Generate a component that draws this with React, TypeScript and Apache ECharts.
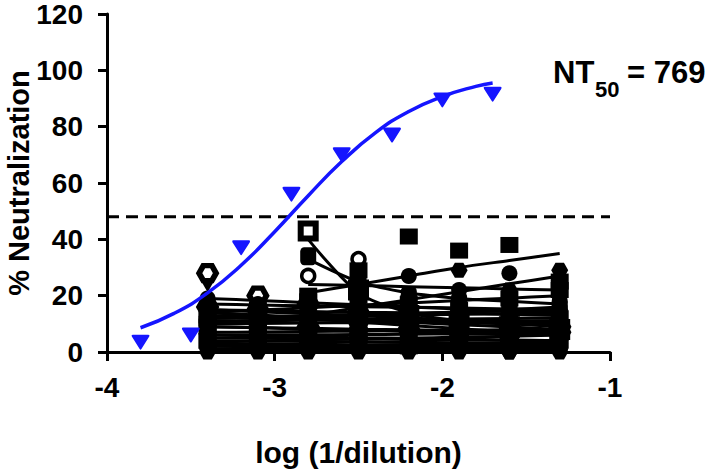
import React, { useEffect, useRef } from "react";
import * as echarts from "echarts";

// Dilution positions (log 1/dilution)
const sampleX = [-3.4, -3.1, -2.8, -2.5, -2.2, -1.9, -1.6, -1.3];

// Black samples: neutralization values at each dilution
const sampleValues: (number | null)[][] = [
  [28, 20, 17, 14, 12, 11, 10, 9],
  [23.5, 13, 11, 10, 12, 9, 10, 8],
  [16, 15, 9, 11, 8, 7, 6, 7],
  [null, null, 43, 22, 13, 10, 9, 8],
  [null, null, 34, 25, 20, 18, 17, 16],
  [null, null, 27, 33, 19, 18.5, 14, 12],
  [12, 10, 20, 29, 41, 36, 38, 25],
  [10, 8, 14, 18, 27, 22, 28, 20],
  [8, 12, 15, 16, 20, 29, 22, 29],
  [18, 16, 13, 12, 15, 14, 12, 13],
  [14, 12, 10, 14, 11, 18.5, 14, 16],
  [11, 9, 8, 9, 7, 10, 9, 11],
  [9, 11, 7, 6, 9, 8, 5, 7],
  [7, 6, 5, 8, 6, 5, 7, 9],
  [6, 7, 4, 5, 3, 6, 4, 5],
  [5, 4, 6, 3, 5, 4, 3, 3],
  [4, 5, 3, 4, 2, 3, 5, 4],
  [3, 2, 2, 1, 4, 2, 1, 2],
  [2, 3, 1, 2, 1, 1, 2, 1],
  [0, 1, 0, 0, 0, 0, 0, 0],
  [17, 14, 16, 7, 10, 12, 11, 10],
  [13, 15, 18, 20, 17, 15, 19, 22],
  [19, 17, 12, 13, 14, 13, 16, 18],
  [1, 0, 2, 3, 1, 2, 0, 1],
  [12, 13, 11, 10, 9, 11, 12, 10],
  [10, 10, 12, 11, 13, 12, 11, 12],
  [8, 9, 10, 12, 11, 9, 8, 6],
  [6, 5, 7, 6, 8, 7, 6, 5],
  [15, 13, 12, 9, 8, 7, 8, 6],
  [4, 3, 5, 6, 4, 5, 6, 7],
  [11, 12, 14, 15, 16, 14, 13, 15],
  [2, 1, 3, 2, 3, 3, 4, 3],
];

// Fitted curves of the black samples at the same dilutions
const sampleFits: (number | null)[][] = [
  [19, 18.3, 17.5, 16.8, 16, 15.3, 14.6, 14],
  [13, 12.5, 12, 11.5, 11, 10.5, 10, 9.5],
  [14, 13.1, 12.3, 11.4, 10.6, 9.7, 8.9, 8],
  [null, null, 40, 21, 14, 11, 10, 9],
  [null, null, 33, 25, 21, 19, 18, 17],
  [null, null, 24, 23.6, 23.2, 22.8, 22.4, 22],
  [null, null, 21, 24, 27, 30, 32.5, 35],
  [null, null, 13, 15.8, 18.6, 21.4, 24.2, 27],
  [10, 10.9, 11.7, 12.6, 13.4, 14.3, 15.1, 16],
  [15, 14.7, 14.4, 14.1, 13.9, 13.6, 13.3, 13],
  [12, 12.3, 12.6, 12.9, 13.1, 13.4, 13.7, 14],
  [10, 10.1, 10.3, 10.4, 10.6, 10.7, 10.9, 11],
  [9, 8.6, 8.1, 7.7, 7.3, 6.9, 6.4, 6],
  [7, 7.1, 7.3, 7.4, 7.6, 7.7, 7.9, 8],
  [6, 5.7, 5.4, 5.1, 4.9, 4.6, 4.3, 4],
  [5, 4.9, 4.7, 4.6, 4.4, 4.3, 4.1, 4],
  [4, 3.9, 3.7, 3.6, 3.4, 3.3, 3.1, 3],
  [3, 2.9, 2.7, 2.6, 2.4, 2.3, 2.1, 2],
  [2, 1.9, 1.9, 1.8, 1.7, 1.6, 1.6, 1.5],
  [0.8, 0.7, 0.7, 0.6, 0.5, 0.4, 0.4, 0.3],
  [15, 14.3, 13.6, 12.9, 12.1, 11.4, 10.7, 10],
  [14, 14.9, 15.7, 16.6, 17.4, 18.3, 19.1, 20],
  [17, 16.7, 16.4, 16.1, 15.9, 15.6, 15.3, 15],
  [1, 1, 1, 1, 1, 1, 1, 1],
  [12, 11.9, 11.7, 11.6, 11.4, 11.3, 11.1, 11],
  [11, 11.1, 11.3, 11.4, 11.6, 11.7, 11.9, 12],
  [9, 8.7, 8.4, 8.1, 7.9, 7.6, 7.3, 7],
  [6, 6.1, 6.1, 6.2, 6.3, 6.4, 6.4, 6.5],
  [14, 12.9, 11.7, 10.6, 9.4, 8.3, 7.1, 6],
  [3.5, 3.9, 4.2, 4.6, 4.9, 5.3, 5.6, 6],
  [12, 12.4, 12.9, 13.3, 13.7, 14.1, 14.6, 15],
  [2, 2.1, 2.3, 2.4, 2.6, 2.7, 2.9, 3],
];

const sampleShapes = [
  "hex", "tri", "hex", "rectHollow", "round", "ring", "rect", "circle",
  "hex", "diamond", "circle", "hex", "rect", "diamond", "circle", "hex",
  "rect", "tri", "circle", "hex", "diamond", "rect", "circle", "hex",
  "circle", "rect", "hex", "diamond", "circle", "rect", "hex", "tri",
];

// Blue reference sample
const refX = [-3.8, -3.5, -3.2, -2.9, -2.6, -2.3, -2.0, -1.7];
const refY = [3.5, 6, 37, 56, 70, 77, 89.5, 91.5];
const refCurveX = [-3.8, -3.6, -3.4, -3.2, -3.0, -2.8, -2.6, -2.4, -2.2, -2.0, -1.8, -1.7];
const refCurveY = [8.6, 13.7, 21, 30.8, 42.7, 55.5, 67.6, 77.8, 85.4, 90.7, 94.3, 95.5];

const cutoff = 48;
const xTicks = [-4, -1];
const yTicks = [0, 120];

const FONT = "Liberation Sans, Arial, sans-serif";
const HEX = "path://M5,0 L15,0 L20,8.66 L15,17.32 L5,17.32 L0,8.66 Z";
const TRI = "path://M0,0 L20,0 L10,17 Z";
const BLUE_TRI = "path://M1,0 L19,0 Q21,0 20,2 L11,15 Q10,16.5 9,15 L0,2 Q-1,0 1,0 Z";

function markerFor(shape: string): any {
  switch (shape) {
    case "hex":
      return { symbol: HEX, size: [17, 15], hollow: true, bw: 5.5 };
    case "tri":
      return { symbol: TRI, size: [15, 13] };
    case "rect":
      return { symbol: "rect", size: [18, 16] };
    case "rectHollow":
      return { symbol: "rect", size: [15, 15], hollow: true, bw: 6 };
    case "round":
      return { symbol: "roundRect", size: [16, 18] };
    case "diamond":
      return { symbol: "diamond", size: [17, 18] };
    case "ring":
      return { symbol: "circle", size: 13, hollow: true, bw: 3.5 };
    default:
      return { symbol: "circle", size: 16 };
  }
}

export default function App() {
  const ref = useRef<HTMLDivElement>(null);
  useEffect(() => {
    if (!ref.current) return;
    const chart = echarts.init(ref.current, null, { renderer: "svg" });
    const series: any[] = [];

    sampleFits.forEach((fit) => {
      series.push({
        type: "line",
        data: sampleX.map((x, j) => [x, fit[j]]).filter((d) => d[1] !== null),
        showSymbol: false,
        smooth: 0.3,
        lineStyle: { color: "#000", width: 3 },
        z: 2,
        silent: true,
      });
    });

    sampleValues.forEach((vals, i) => {
      const m = markerFor(sampleShapes[i]);
      const hollowTop = i < 6 && m.hollow;
      series.push({
        type: "scatter",
        data: sampleX.map((x, j) => [x, vals[j]]).filter((d) => d[1] !== null),
        symbol: m.symbol,
        symbolSize: m.size,
        itemStyle: hollowTop
          ? { color: "#fff", borderColor: "#000", borderWidth: m.bw, opacity: 1 }
          : { color: "#000", opacity: 1 },
        z: hollowTop ? 3 : 4,
      });
    });

    series.push({
      type: "line",
      data: [
        [xTicks[0], cutoff],
        [xTicks[1], cutoff],
      ],
      showSymbol: false,
      lineStyle: { color: "#000", width: 3, type: [12, 7] },
      z: 2,
    });

    series.push({
      type: "line",
      data: refCurveX.map((x, i) => [x, refCurveY[i]]),
      showSymbol: false,
      smooth: true,
      lineStyle: { color: "#1515ff", width: 3.5 },
      z: 6,
    });
    series.push({
      type: "scatter",
      data: refX.map((x, i) => [x, refY[i]]),
      symbol: BLUE_TRI,
      symbolSize: [18, 15],
      itemStyle: { color: "#1515ff", opacity: 1 },
      z: 7,
    });

    const axisLabel = {
      color: "#000",
      fontSize: 28,
      fontWeight: "bold",
      fontFamily: FONT,
    };

    chart.setOption({
      animation: false,
      grid: {
        left: 107,
        right: 98,
        top: 14,
        bottom: 117,
        containLabel: false,
        outerBoundsMode: "none",
      },
      xAxis: {
        type: "value",
        min: xTicks[0],
        max: xTicks[1],
        interval: 1,
        splitLine: { show: false },
        axisLine: { lineStyle: { color: "#000", width: 3 }, onZero: false },
        axisTick: { show: true, length: 9, lineStyle: { color: "#000", width: 3 } },
        axisLabel: { ...axisLabel, margin: 21 },
        name: "log (1/dilution)",
        nameLocation: "middle",
        nameGap: 85,
        nameMoveOverlap: false,
        nameTextStyle: { color: "#000", fontSize: 30, fontWeight: "bold", fontFamily: FONT },
      },
      yAxis: {
        type: "value",
        min: yTicks[0],
        max: yTicks[1],
        interval: 20,
        splitLine: { show: false },
        axisLine: { show: true, lineStyle: { color: "#000", width: 3 } },
        axisTick: { show: true, length: 9, lineStyle: { color: "#000", width: 3 } },
        axisLabel: { ...axisLabel, margin: 24 },
        name: "% Neutralization",
        nameLocation: "middle",
        nameGap: 74,
        nameMoveOverlap: false,
        nameTextStyle: { color: "#000", fontSize: 29, fontWeight: "bold", fontFamily: FONT },
      },
      graphic: [
        {
          type: "text",
          left: 553,
          top: 57,
          style: { text: "NT", fontSize: 31, fontWeight: "bold", fontFamily: FONT, fill: "#000" },
        },
        {
          type: "text",
          left: 595,
          top: 78,
          style: { text: "50", fontSize: 22, fontWeight: "bold", fontFamily: FONT, fill: "#000" },
        },
        {
          type: "text",
          left: 627,
          top: 57,
          style: { text: "= 769", fontSize: 31, fontWeight: "bold", fontFamily: FONT, fill: "#000" },
        },
      ],
      series,
    });
    return () => chart.dispose();
  }, []);
  return <div ref={ref} style={{ width: 708, height: 469, position: "absolute", left: 0, top: 0 }} />;
}
